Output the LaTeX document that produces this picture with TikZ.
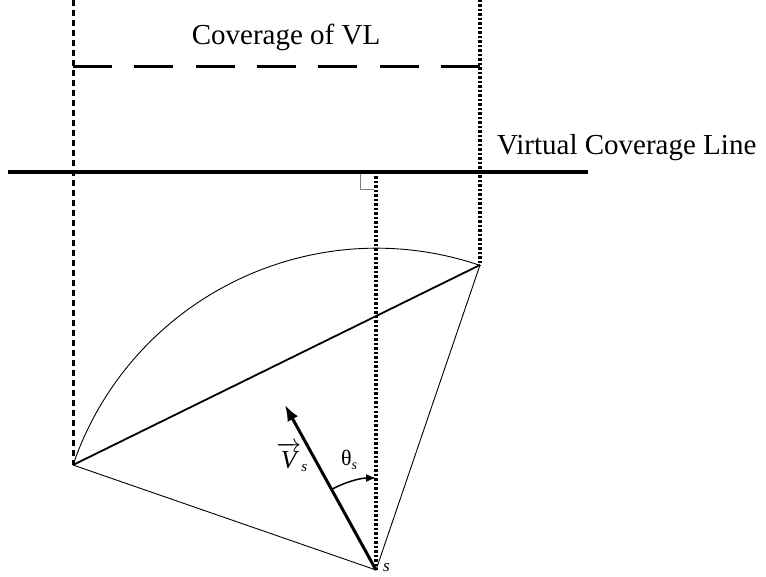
\documentclass[tikz,border=0pt]{standalone}
\usepackage{fontspec}
\setmainfont{Liberation Serif}
\usetikzlibrary{arrows.meta}

\begin{document}
\begin{tikzpicture}[x=1pt,y=-1pt,
    dotline/.style={line width=3.5pt,dash pattern=on 2.5pt off 2pt},
    dashline/.style={line width=3pt,dash pattern=on 6pt off 4pt},
    bigtext/.style={font=\fontsize{29}{34}\selectfont,inner sep=0pt}]
  \useasboundingbox (0,0) rectangle (766,577);
  % Points of the sector
  \coordinate (s) at (376,570);
  \coordinate (pl) at (73,465);
  \coordinate (pr) at (480,265);
  \coordinate (vtip) at (285,405);
  % Tops of the dotted lines
  \coordinate (tl) at (73,0);
  \coordinate (tr) at (480,0);
  \coordinate (foot) at (376,172);
  % Ends of the lines
  \coordinate (vcl1) at (8,172);
  \coordinate (vcl2) at (588,172);
  \coordinate (cov1) at (73,67);
  \coordinate (cov2) at (480,67);
  % Coverage of VL
  \draw[line width=3pt,dash pattern=on 39pt off 22.3pt] (cov1) -- (cov2);
  \node[bigtext,anchor=base] (covlabel) at (286,45) {Coverage of VL};
  % Virtual coverage line
  \draw[line width=4pt] (vcl1) -- (vcl2);
  \node[bigtext,anchor=base west] (vcllabel) at (497,155) {Virtual Coverage Line};
  % Dotted projections
  \draw[dashline] (tl) -- (pl);
  \draw[dotline] (tr) -- (pr);
  \draw[dotline] (foot) -- (s);
  % Right angle mark
  \draw[gray,line width=1pt] (374,190) -- (360,190) -- (360,174);
  % Sector
  \draw[line width=0.9pt] (pl) arc[start angle=198.94,end angle=288.94,radius=320.9];
  \draw[line width=1.8pt] (pl) -- (pr);
  \draw[line width=0.9pt] (pl) -- (s) -- (pr);
  % Heading vector
  \draw[line width=3pt,-{Latex[length=16pt,width=12pt]}] (s) -- (vtip);
  \node[font=\fontsize{26}{30}\selectfont,inner sep=0pt,anchor=base] (vlabel) at (292,468)
    {$\overrightarrow{\mbox{\itshape V}}_{\mbox{\fontsize{15}{17}\selectfont\itshape s}}$};
  % Angle theta
  \draw[line width=1.5pt,-{Latex[length=10pt,width=8pt]}] ([shift={(241.5:92)}]s)
    arc[start angle=241.5,end angle=270,radius=92];
  \node[font=\fontsize{22}{26}\selectfont,inner sep=0pt,anchor=base west] (thlabel) at (341,465)
    {θ\raisebox{-4pt}{\fontsize{14}{16}\selectfont\itshape s}};
  % Sensor
  \node[font=\fontsize{17}{20}\selectfont\itshape,inner sep=0pt,anchor=base west] (slabel) at (383,571) {s};
\end{tikzpicture}
\end{document}
